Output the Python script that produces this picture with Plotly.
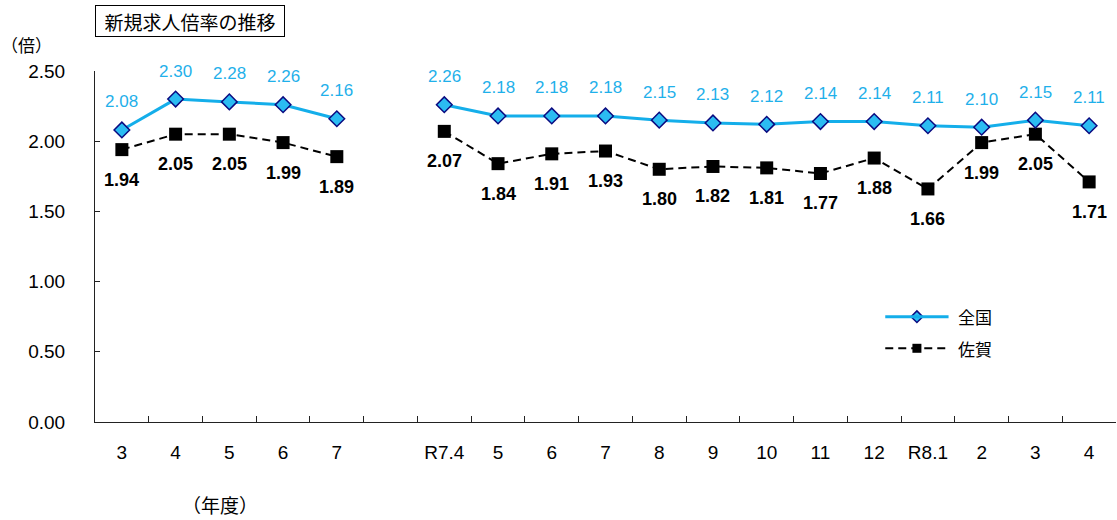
import plotly.graph_objects as go

# ---- data ----
x_labels = ["3", "4", "5", "6", "7", "", "R7.4", "5", "6", "7", "8", "9", "10", "11", "12", "R8.1", "2", "3", "4"]
zenkoku = [2.08, 2.30, 2.28, 2.26, 2.16, None, 2.26, 2.18, 2.18, 2.18, 2.15, 2.13, 2.12, 2.14, 2.14, 2.11, 2.10, 2.15, 2.11]
saga = [1.94, 2.05, 2.05, 1.99, 1.89, None, 2.07, 1.84, 1.91, 1.93, 1.80, 1.82, 1.81, 1.77, 1.88, 1.66, 1.99, 2.05, 1.71]
y_ticks = [0, 0.5, 1.0, 1.5, 2.0, 2.5]

xs = list(range(len(x_labels)))

BLUE_LINE = "#14aeea"
BLUE_FILL = "#2bbcf2"
NAVY = "#0a0a80"
BLUE_TEXT = "#1fb0ea"
JP = "Noto Sans CJK JP"
NUM = "Liberation Sans, Arial, sans-serif"
DASH = "8px,5px"

fig = go.Figure()
fig.add_trace(go.Scatter(
    x=xs, y=saga, mode="lines+markers", name="佐賀",
    line=dict(color="black", width=2, dash=DASH),
    marker=dict(symbol="square", size=13, color="black"),
    connectgaps=False, showlegend=False, cliponaxis=False))
fig.add_trace(go.Scatter(
    x=xs, y=zenkoku, mode="lines+markers", name="全国",
    line=dict(color=BLUE_LINE, width=3),
    marker=dict(symbol="diamond", size=12, color=BLUE_FILL, line=dict(color=NAVY, width=1.5)),
    connectgaps=False, showlegend=False, cliponaxis=False))

annotations = []
for i, v in enumerate(zenkoku):
    if v is None:
        continue
    annotations.append(dict(x=i, y=v, text=f"{v:.2f}", showarrow=False, yshift=28,
                            font=dict(family=NUM, size=17, color=BLUE_TEXT)))
for i, v in enumerate(saga):
    if v is None:
        continue
    annotations.append(dict(x=i, y=v, text=f"<b>{v:.2f}</b>", showarrow=False, yshift=-30,
                            font=dict(family="Liberation Sans Narrow, Liberation Sans, Arial", size=18, color="black")))

# title box
annotations.append(dict(xref="paper", yref="paper", x=0, y=1.188, xanchor="left", yanchor="top",
                        text="新規求人倍率の推移", showarrow=False, width=186, height=28,
                        bordercolor="black", borderwidth=1, borderpad=1, align="center",
                        font=dict(family=JP, size=19, color="black")))
# axis unit labels
annotations.append(dict(xref="paper", yref="paper", x=-0.067, y=1.076, xanchor="center", yanchor="middle",
                        text="（倍）", showarrow=False, font=dict(family=JP, size=17, color="black")))
annotations.append(dict(xref="paper", yref="paper", x=0.122, y=-0.235, xanchor="center", yanchor="middle",
                        text="（年度）", showarrow=False, font=dict(family=JP, size=19, color="black")))

# manual legend
shapes = []
legend_items = [("全国", 0.30, BLUE_LINE, 3, "solid"), ("佐賀", 0.21, "black", 2, DASH)]
lx0, lx1 = 0.774, 0.836
for name, ly, col, w, dash in legend_items:
    shapes.append(dict(type="line", xref="paper", yref="paper", x0=lx0, x1=lx1, y0=ly, y1=ly,
                       line=dict(color=col, width=w, dash=dash)))
    annotations.append(dict(xref="paper", yref="paper", x=lx1 + 0.007, y=ly, xanchor="left", yanchor="middle",
                            text=name, showarrow=False, font=dict(family=JP, size=17, color="black")))
fig.add_trace(go.Scatter(x=[(lx0 + lx1) / 2], y=[0.30], xaxis="x2", yaxis="y2", mode="markers",
                         marker=dict(symbol="diamond", size=9, color=BLUE_FILL, line=dict(color=NAVY, width=1.5)),
                         showlegend=False, hoverinfo="skip"))
fig.add_trace(go.Scatter(x=[(lx0 + lx1) / 2], y=[0.21], xaxis="x2", yaxis="y2", mode="markers",
                         marker=dict(symbol="square", size=9, color="black"),
                         showlegend=False, hoverinfo="skip"))

fig.update_layout(
    width=1117, height=520,
    margin=dict(l=95, r=1, t=71, b=98),
    paper_bgcolor="white", plot_bgcolor="white",
    showlegend=False,
    font=dict(family=NUM, size=17, color="black"),
    xaxis=dict(range=[-0.5, len(x_labels) - 0.5], tickvals=xs, ticktext=x_labels,
               ticks="", showgrid=False, zeroline=False, showline=True, linecolor="#222", linewidth=1,
               tickfont=dict(family=NUM, size=19, color="black"), ticklabelstandoff=13,
               minor=dict(tickvals=[i + 0.5 for i in range(len(x_labels) - 1)], ticks="inside",
                          ticklen=6, tickcolor="#222", tickwidth=1, showgrid=False)),
    yaxis=dict(range=[0, 2.5], tickvals=y_ticks, ticktext=[f"{t:.2f}" for t in y_ticks],
               ticks="inside", ticklen=5, tickcolor="#222", showgrid=False, zeroline=False,
               showline=True, linecolor="#222", linewidth=1,
               tickfont=dict(family=NUM, size=19, color="black"), ticklabelstandoff=25),
    xaxis2=dict(overlaying="x", range=[0, 1], visible=False),
    yaxis2=dict(overlaying="y", range=[0, 1], visible=False),
    annotations=annotations,
    shapes=shapes,
)

fig.write_html("out.html", config={"displayModeBar": False},
               post_script="document.body.style.margin='0';document.body.style.overflow='hidden';")
